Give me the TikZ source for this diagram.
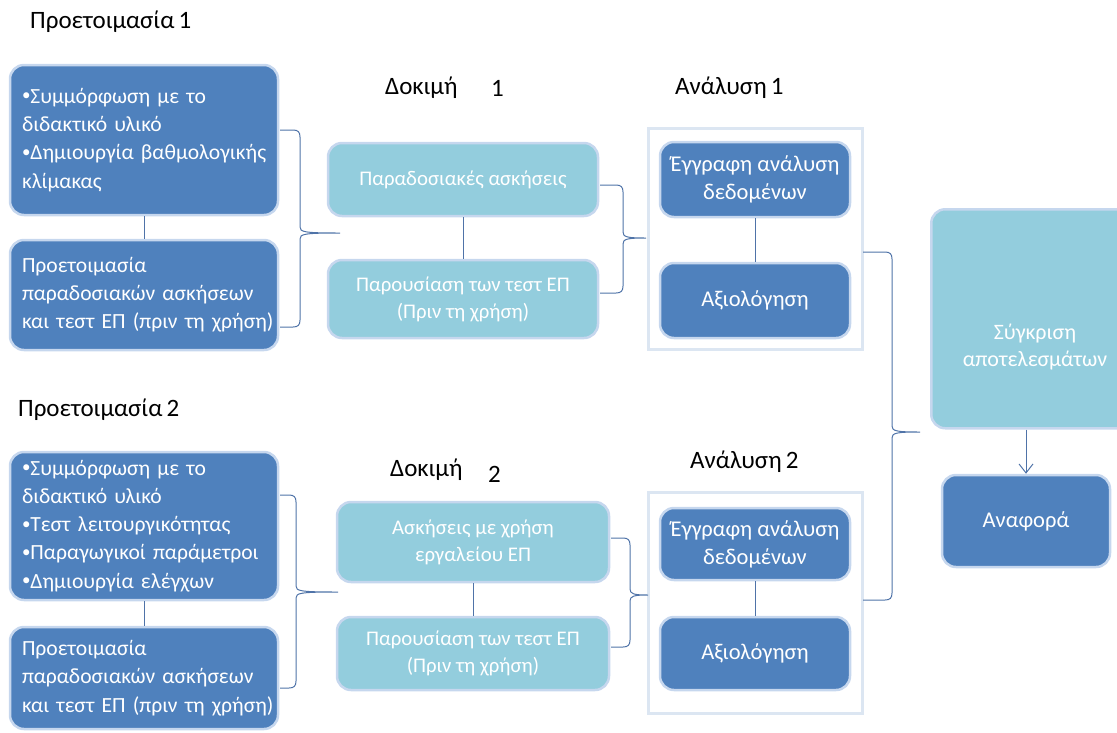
\documentclass[tikz,border=0pt]{standalone}
\usepackage{fontspec}
\setmainfont{Carlito}
\usetikzlibrary{arrows.meta}
\definecolor{darkb}{HTML}{4F81BD}
\definecolor{lightb}{HTML}{93CDDD}
\definecolor{edgeb}{HTML}{C6D7EE}
\definecolor{framec}{HTML}{DCE6F2}
\definecolor{connc}{HTML}{4F73A8}
\newcommand\bul{\raisebox{0.12em}{\fontsize{17}{17}\selectfont•}}
\tikzset{
  darkbox/.style={rounded corners=14pt, fill=darkb, draw=edgeb, line width=2.5pt, text=white, font=\fontsize{22.5}{28}\selectfont},
  lightbox/.style={rounded corners=14pt, fill=lightb, draw=edgeb, line width=2.5pt, text=white, font=\fontsize{20.8}{27}\selectfont, align=center},
  leftbox/.style={darkbox, font=\fontsize{21.6}{28.2}\selectfont, align=left, text width=244pt, inner xsep=12pt, inner ysep=0pt},
  framebox/.style={draw=framec, line width=3pt},
  conn/.style={draw=connc, line width=1pt},
  title/.style={font=\fontsize{25}{28}\selectfont, text=black, inner sep=0pt}
}
\newcommand\curlyb[6]{%
\draw[conn] (#1,#2) -- (#4-7,#2) .. controls (#4-2,#2) and (#4,#2+2) .. (#4,#2+7) -- (#4,#6-6) .. controls (#4,#6-1) and (#4+4,#6) .. (#5,#6) .. controls (#4+4,#6) and (#4,#6+1) .. (#4,#6+6) -- (#4,#3-7) .. controls (#4,#3-2) and (#4-2,#3) .. (#4-7,#3) -- (#1,#3);}
\begin{document}
\begin{tikzpicture}[x=1pt,y=-1pt]
\useasboundingbox (0,0) rectangle (1117,732);
\begin{scope}
\clip (0,0) rectangle (1117,732);
% titles
\node[title, anchor=west] (t1) at (30,22) {Προετοιμασία\,1};
\node[title, anchor=west] (t2) at (385,88) {Δοκιμή};
\node[title, anchor=west] (t2n) at (491,88) {1};
\node[title, anchor=west] (t3) at (675,88) {Ανάλυση\,1};
\node[title, anchor=west] (t4) at (18,410) {Προετοιμασία\,2};
\node[title, anchor=west] (t5) at (390,470) {Δοκιμή};
\node[title, anchor=west] (t5n) at (488,474) {2};
\node[title, anchor=west] (t6) at (690,462) {Ανάλυση\,2};

% frames
\draw[framebox] (648,128) rectangle (862,349);
\draw[framebox] (648,492) rectangle (862,713);

% top row
\node[leftbox, minimum height=150pt] (pA) at (144,140) {\mbox{\bul Συμμόρφωση με το}\\ \mbox{διδακτικό υλικό}\\ \mbox{\bul Δημιουργία βαθμολογικής}\\ \mbox{κλίμακας}};
\node[leftbox, minimum height=110pt] (pB) at (144,295) {\mbox{Προετοιμασία}\\ \mbox{παραδοσιακών ασκήσεων}\\ \mbox{και τεστ ΕΠ (πριν τη χρήση)}};
\node[lightbox, minimum width=270pt, minimum height=73pt] (C) at (463,179.5) {Παραδοσιακές ασκήσεις};
\node[lightbox, minimum width=270pt, minimum height=78pt] (D) at (463,299) {Παρουσίαση των τεστ ΕΠ\\ (Πριν τη χρήση)};
\node[darkbox, align=center, minimum width=190pt, minimum height=75pt] (E) at (755,179.5) {Έγγραφη ανάλυση\\ δεδομένων};
\node[darkbox, align=center, minimum width=190pt, minimum height=75pt] (F) at (755,300.5) {Αξιολόγηση};

% bottom row
\node[leftbox, minimum height=148pt] (pA2) at (144,526) {\mbox{\bul Συμμόρφωση με το}\\ \mbox{διδακτικό υλικό}\\ \mbox{\bul Τεστ λειτουργικότητας}\\ \mbox{\bul Παραγωγικοί παράμετροι}\\ \mbox{\bul Δημιουργία ελέγχων}};
\node[leftbox, minimum height=102pt] (pB2) at (144,678) {\mbox{Προετοιμασία}\\ \mbox{παραδοσιακών ασκήσεων}\\ \mbox{και τεστ ΕΠ (πριν τη χρήση)}};
\node[lightbox, minimum width=272pt, minimum height=80pt] (C2) at (473,542) {Ασκήσεις με χρήση\\ εργαλείου ΕΠ};
\node[lightbox, minimum width=272pt, minimum height=73pt] (D2) at (473,653.5) {Παρουσίαση των τεστ ΕΠ\\ (Πριν τη χρήση)};
\node[darkbox, align=center, minimum width=190pt, minimum height=72pt] (E2) at (755,544) {Έγγραφη ανάλυση\\ δεδομένων};
\node[darkbox, align=center, minimum width=190pt, minimum height=73pt] (F2) at (755,653.5) {Αξιολόγηση};

% right column
\node[lightbox, minimum width=210pt, minimum height=219pt, anchor=north west] (G) at (930,208) {};
\node[text=white, font=\fontsize{22}{27}\selectfont, align=center, inner sep=0pt] (Gt) at (1035,347) {Σύγκριση\\ αποτελεσμάτων};
\node[darkbox, align=center, minimum width=168pt, minimum height=92pt] (H) at (1026,521) {Αναφορά};

% vertical connectors
\draw[conn] (pA.south) -- (pB.north);
\draw[conn] (C.south) -- (D.north);
\draw[conn] (E.south) -- (F.north);
\draw[conn] (pA2.south) -- (pB2.north);
\draw[conn] (C2.south) -- (D2.north);
\draw[conn] (E2.south) -- (F2.north);
\draw[conn, -{Straight Barb[length=9pt,width=14pt]}] (G.south -| H.north) -- (H.north);

% braces
\curlyb{280}{130}{327}{300}{340}{233}
\curlyb{600}{185}{293}{623}{646}{238}
\curlyb{863}{252}{600}{892}{920}{432}
\curlyb{280}{495}{688}{296}{338}{592}
\curlyb{611}{538}{647}{630}{648}{595}
\end{scope}
\end{tikzpicture}
\end{document}
